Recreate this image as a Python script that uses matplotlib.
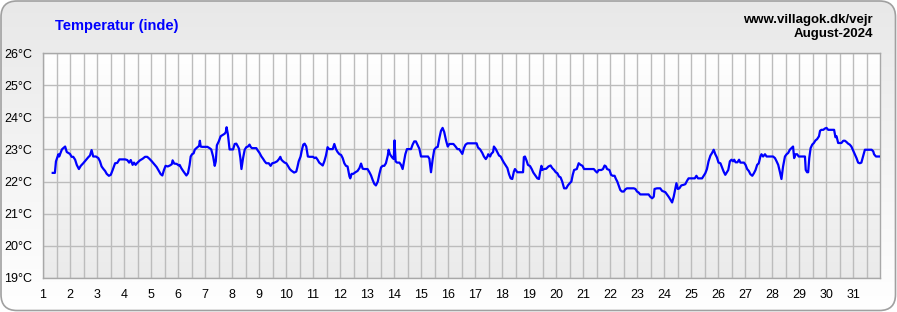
import numpy as np
import matplotlib
matplotlib.use("Agg")
import matplotlib.pyplot as plt
from matplotlib.patches import FancyBboxPatch

plt.rcParams['font.family'] = ['Liberation Sans', 'DejaVu Sans']

title = "Temperatur (inde)"
site = "www.villagok.dk/vejr"
period = "August-2024"
day_labels = [str(d) for d in range(1, 32)]
y_ticks = [19, 20, 21, 22, 23, 24, 25, 26]

# time of reading (day of month, fractional) and indoor temperature in °C
days = [
    1.36, 1.44, 1.48, 1.57, 1.60, 1.65, 1.70, 1.75, 1.82, 1.88, 1.94, 2.00, 2.06, 2.12, 2.19, 2.25,
    2.33, 2.40, 2.49, 2.59, 2.68, 2.74, 2.80, 2.86, 2.96, 3.05, 3.11, 3.17, 3.24, 3.30, 3.36, 3.44,
    3.51, 3.58, 3.67, 3.75, 3.83, 3.91, 4.04, 4.12, 4.19, 4.25, 4.32, 4.37, 4.43, 4.49, 4.59, 4.69,
    4.78, 4.86, 4.94, 5.03, 5.11, 5.21, 5.27, 5.36, 5.42, 5.48, 5.54, 5.62, 5.70, 5.77, 5.80, 5.86,
    5.95, 6.03,
    6.06, 6.12, 6.19, 6.25, 6.31, 6.37, 6.43, 6.47, 6.52, 6.58, 6.62, 6.68, 6.74, 6.78, 6.81, 6.84,
    6.89, 6.99, 7.09, 7.17, 7.23, 7.30, 7.36, 7.40, 7.44, 7.51, 7.58, 7.67, 7.73, 7.77, 7.80, 7.85,
    7.91, 7.98, 8.04, 8.10, 8.16, 8.22, 8.26, 8.31, 8.35, 8.41, 8.47, 8.53, 8.59, 8.65, 8.69, 8.74,
    8.81, 8.90, 8.96, 9.02, 9.09, 9.15, 9.21, 9.27, 9.36, 9.43, 9.49, 9.58, 9.67, 9.74, 9.79, 9.83,
    9.89, 9.95, 10.01, 10.07, 10.14, 10.20, 10.30, 10.38, 10.42, 10.47, 10.54, 10.59, 10.64, 10.69,
    10.75, 10.81, 10.88, 10.94, 11.00, 11.06,
    11.11, 11.17, 11.23, 11.30, 11.36, 11.42, 11.48, 11.54, 11.60, 11.67, 11.73, 11.79, 11.85, 11.91,
    11.98, 12.04, 12.10, 12.16, 12.22, 12.28, 12.35, 12.38, 12.43, 12.49, 12.57, 12.65, 12.72, 12.78,
    12.84, 12.90, 12.96, 13.02, 13.09, 13.15, 13.21, 13.27, 13.33, 13.40, 13.46, 13.52, 13.58, 13.64,
    13.70, 13.77, 13.80, 13.85, 13.93, 13.99, 14.02, 14.06, 14.11, 14.20, 14.26, 14.32, 14.37, 14.42,
    14.48, 14.57, 14.63, 14.69, 14.75, 14.81, 14.88, 14.94, 15.00, 15.06, 15.19, 15.26, 15.31, 15.37,
    15.43, 15.49, 15.56, 15.62, 15.68, 15.74, 15.80, 15.86, 15.93, 15.99, 16.05, 16.11, 16.20,
    16.28, 16.35, 16.41, 16.47, 16.53, 16.59, 16.65, 16.72, 16.84, 16.96, 17.06, 17.11, 17.19, 17.27,
    17.33, 17.40, 17.46, 17.49, 17.56, 17.60, 17.67, 17.70, 17.77, 17.83, 17.89, 17.95, 18.01, 18.07,
    18.14, 18.20, 18.26, 18.32, 18.38, 18.44, 18.48, 18.57, 18.69, 18.78, 18.81, 18.85, 18.91, 18.96,
    19.04, 19.10, 19.16, 19.22, 19.31, 19.37, 19.41, 19.46, 19.49, 19.56, 19.64, 19.72, 19.80, 19.86,
    19.93, 19.99, 20.05, 20.11, 20.17, 20.23, 20.30, 20.38, 20.44, 20.51, 20.57, 20.62, 20.67, 20.77,
    20.84, 20.91, 20.98, 21.04, 21.16, 21.28,
    21.33, 21.40, 21.46, 21.52, 21.58, 21.68, 21.74, 21.80, 21.85, 21.89, 21.98, 22.04, 22.10, 22.17,
    22.22, 22.27, 22.32, 22.38, 22.44, 22.51, 22.57, 22.63, 22.75, 22.88, 22.94, 23.00, 23.06, 23.12,
    23.19, 23.31, 23.43, 23.49, 23.56, 23.62, 23.65, 23.74, 23.86, 23.93, 23.99, 24.05, 24.11, 24.17,
    24.23, 24.30, 24.36, 24.42, 24.46, 24.51, 24.57, 24.64, 24.73, 24.79, 24.85, 24.91, 25.04, 25.14,
    25.20, 25.26, 25.32, 25.41, 25.47, 25.53, 25.59, 25.65, 25.72, 25.78, 25.84, 25.90, 25.96, 26.02,
    26.09, 26.15, 26.21, 26.27, 26.33,
    26.38, 26.44, 26.50, 26.56, 26.60, 26.65, 26.72, 26.78, 26.83, 26.90, 26.96, 27.02, 27.08, 27.14,
    27.20, 27.27, 27.33, 27.39, 27.45, 27.51, 27.57, 27.61, 27.67, 27.74, 27.80, 27.92, 28.04, 28.11,
    28.17, 28.23, 28.29, 28.35, 28.41, 28.48, 28.54, 28.60, 28.66, 28.72, 28.78, 28.82, 28.87, 28.93,
    28.99, 29.07, 29.15, 29.22, 29.25, 29.30, 29.34, 29.38, 29.43, 29.49, 29.55, 29.61, 29.67, 29.74,
    29.78, 29.83, 29.90, 29.96, 30.02, 30.08, 30.14, 30.23, 30.30, 30.35, 30.39, 30.45, 30.51, 30.57,
    30.64, 30.70, 30.76, 30.82, 30.88, 30.94, 31.01, 31.07, 31.13, 31.19, 31.25, 31.31, 31.38, 31.44,
    31.50, 31.59, 31.69, 31.75, 31.78, 31.85, 31.98,
]
temps = [
    22.27, 22.27, 22.63, 22.85, 22.78, 22.89, 23.00, 23.04, 23.09, 22.92, 22.89, 22.86, 22.77, 22.77, 22.68, 22.52,
    22.39, 22.49, 22.57, 22.67, 22.76, 22.81, 22.98, 22.78, 22.78, 22.73, 22.63, 22.47, 22.39, 22.33, 22.24, 22.18,
    22.21, 22.36, 22.57, 22.58, 22.69, 22.69, 22.69, 22.67, 22.59, 22.67, 22.52, 22.59, 22.52, 22.58, 22.66, 22.71,
    22.77, 22.77, 22.71, 22.63, 22.55, 22.45, 22.36, 22.23, 22.19, 22.36, 22.49, 22.47, 22.50, 22.54, 22.66, 22.56,
    22.55, 22.50,
    22.52, 22.42, 22.33, 22.26, 22.19, 22.26, 22.52, 22.78, 22.85, 22.88, 22.99, 23.04, 23.08, 23.11, 23.27, 23.09,
    23.08, 23.08, 23.08, 23.04, 23.00, 22.78, 22.49, 22.63, 23.13, 23.25, 23.41, 23.46, 23.49, 23.54, 23.69, 23.46,
    23.00, 23.00, 23.00, 23.17, 23.18, 23.09, 23.02, 22.73, 22.39, 22.73, 22.99, 23.07, 23.09, 23.15, 23.08, 23.04,
    23.04, 23.04, 22.96, 22.89, 22.78, 22.71, 22.63, 22.57, 22.57, 22.49, 22.57, 22.59, 22.63, 22.70, 22.77, 22.68,
    22.63, 22.59, 22.57, 22.49, 22.39, 22.34, 22.28, 22.31, 22.44, 22.63, 22.78, 22.99, 23.15, 23.18,
    23.09, 22.78, 22.77, 22.77, 22.77, 22.73,
    22.75, 22.68, 22.59, 22.54, 22.50, 22.63, 22.81, 23.07, 23.01, 23.01, 23.01, 23.17, 23.01, 22.92,
    22.85, 22.83, 22.73, 22.57, 22.49, 22.47, 22.16, 22.10, 22.24, 22.24, 22.29, 22.33, 22.42, 22.56,
    22.40, 22.39, 22.39, 22.39, 22.29, 22.19, 22.05, 21.93, 21.88, 22.00, 22.24, 22.44, 22.49, 22.49,
    22.57, 22.81, 22.99, 22.85, 22.75, 22.70, 23.28, 22.63, 22.59, 22.59, 22.52, 22.39, 22.63, 22.85,
    23.01, 23.01, 23.01, 23.15, 23.25, 23.25, 23.13, 23.02, 22.78, 22.78, 22.78, 22.78, 22.71, 22.29,
    22.68, 22.99, 23.06, 23.08, 23.35, 23.58, 23.67, 23.54, 23.27, 23.09, 23.17, 23.17, 23.17,
    23.09, 23.01, 23.01, 22.94, 22.86, 23.04, 23.15, 23.19, 23.19, 23.19, 23.19, 23.06, 23.00, 22.89,
    22.78, 22.70, 22.78, 22.85, 22.78, 22.86, 22.92, 23.09, 23.01, 22.91, 22.81, 22.78, 22.68, 22.59,
    22.50, 22.42, 22.23, 22.10, 22.08, 22.31, 22.39, 22.29, 22.29, 22.29, 22.76, 22.78, 22.65, 22.52,
    22.48, 22.39, 22.28, 22.21, 22.10, 22.08, 22.29, 22.49, 22.36, 22.39, 22.40, 22.47, 22.50, 22.42,
    22.36, 22.29, 22.26, 22.16, 22.13, 22.00, 21.79, 21.79, 21.88, 21.95, 22.00, 22.21, 22.36, 22.39,
    22.57, 22.52, 22.49, 22.39, 22.39, 22.39,
    22.39, 22.39, 22.33, 22.28, 22.36, 22.36, 22.39, 22.50, 22.47, 22.39, 22.36, 22.21, 22.18, 22.18,
    22.08, 22.00, 21.88, 21.74, 21.69, 21.69, 21.76, 21.79, 21.79, 21.79, 21.77, 21.69, 21.66, 21.60,
    21.60, 21.60, 21.60, 21.53, 21.48, 21.53, 21.77, 21.79, 21.79, 21.71, 21.69, 21.67, 21.60, 21.53,
    21.45, 21.35, 21.53, 21.79, 21.95, 21.77, 21.79, 21.88, 21.90, 21.92, 22.02, 22.10, 22.10, 22.10,
    22.18, 22.10, 22.10, 22.10, 22.18, 22.26, 22.39, 22.63, 22.81, 22.89, 22.99, 22.85, 22.75, 22.59,
    22.57, 22.44, 22.31, 22.21, 22.29,
    22.36, 22.63, 22.68, 22.63, 22.68, 22.60, 22.60, 22.68, 22.59, 22.59, 22.59, 22.52, 22.39, 22.33,
    22.23, 22.18, 22.26, 22.36, 22.52, 22.57, 22.78, 22.85, 22.78, 22.85, 22.78, 22.78, 22.78, 22.73,
    22.63, 22.52, 22.31, 22.08, 22.47, 22.78, 22.85, 22.89, 22.99, 23.04, 23.09, 22.73, 22.85, 22.85,
    22.78, 22.78, 22.78, 22.78, 22.36, 22.29, 22.29, 22.73, 23.04, 23.15, 23.20, 23.28, 23.32, 23.41,
    23.58, 23.61, 23.61, 23.65, 23.67, 23.61, 23.61, 23.61, 23.61, 23.38, 23.41, 23.20, 23.20, 23.20,
    23.27, 23.27, 23.23, 23.18, 23.15, 23.09, 22.96, 22.85, 22.73, 22.59, 22.57, 22.59, 22.81, 22.99,
    22.99, 22.99, 22.99, 22.94, 22.85, 22.78, 22.78,
]

W, H = 897, 312
fig = plt.figure(figsize=(W / 100, H / 100), dpi=100)
fig.patch.set_facecolor('white')

# rounded grey frame with soft vertical gradient
bg = fig.add_axes([0, 0, 1, 1])
bg.set_xlim(0, W)
bg.set_ylim(H, 0)
bg.axis('off')
frame = FancyBboxPatch((1, 1), W - 2.5, H - 2.5, boxstyle="round,pad=0,rounding_size=16",
                       facecolor='none', edgecolor='#a0a0a0', lw=1.2, zorder=3)
bg.add_patch(frame)
g = np.linspace(0.91, 1.0, 256).reshape(-1, 1)
img = bg.imshow(np.dstack([g, g, g]), extent=(1, W - 1.5, H - 1.5, 1), aspect='auto', zorder=1)
img.set_clip_path(frame)

# plot area
left, right, top, bottom = 43, 880, 53, 278
ax = fig.add_axes([left / W, (H - bottom) / H, (right - left) / W, (bottom - top) / H])
ax.set_xlim(1, 32)
ax.set_ylim(19, 26)
pg = np.linspace(0.92, 1.0, 256).reshape(-1, 1)
ax.imshow(np.dstack([pg, pg, pg]), extent=(1, 32, 19, 26), aspect='auto', origin='lower', zorder=0)

ax.set_xticks(range(1, 32))
ax.set_xticklabels(day_labels)
ax.set_xticks(np.arange(1.5, 32, 1), minor=True)
ax.set_yticks(y_ticks)
ax.set_yticklabels([f"{t}°C" for t in y_ticks])
ax.grid(which='both', color='#bcbcbc', lw=1, zorder=1)
ax.tick_params(which='both', length=0)
ax.tick_params(axis='x', pad=8, labelsize=9)
ax.tick_params(axis='y', pad=8, labelsize=9)
for s in ax.spines.values():
    s.set_color('#a8a8a8')
    s.set_linewidth(1)

ax.plot(days, temps, color='#0000ff', lw=1.6, zorder=3, solid_joinstyle='round')

fig.text(55 / W, 1 - 26 / H, title, color='#0000ff', fontsize=10.5, fontweight='bold',
         ha='left', va='center')
fig.text(873 / W, 1 - 20 / H, site, color='black', fontsize=9.5, fontweight='bold',
         ha='right', va='center')
fig.text(873 / W, 1 - 34 / H, period, color='black', fontsize=9.5, fontweight='bold',
         ha='right', va='center')

fig.savefig('out.png', dpi=100)
